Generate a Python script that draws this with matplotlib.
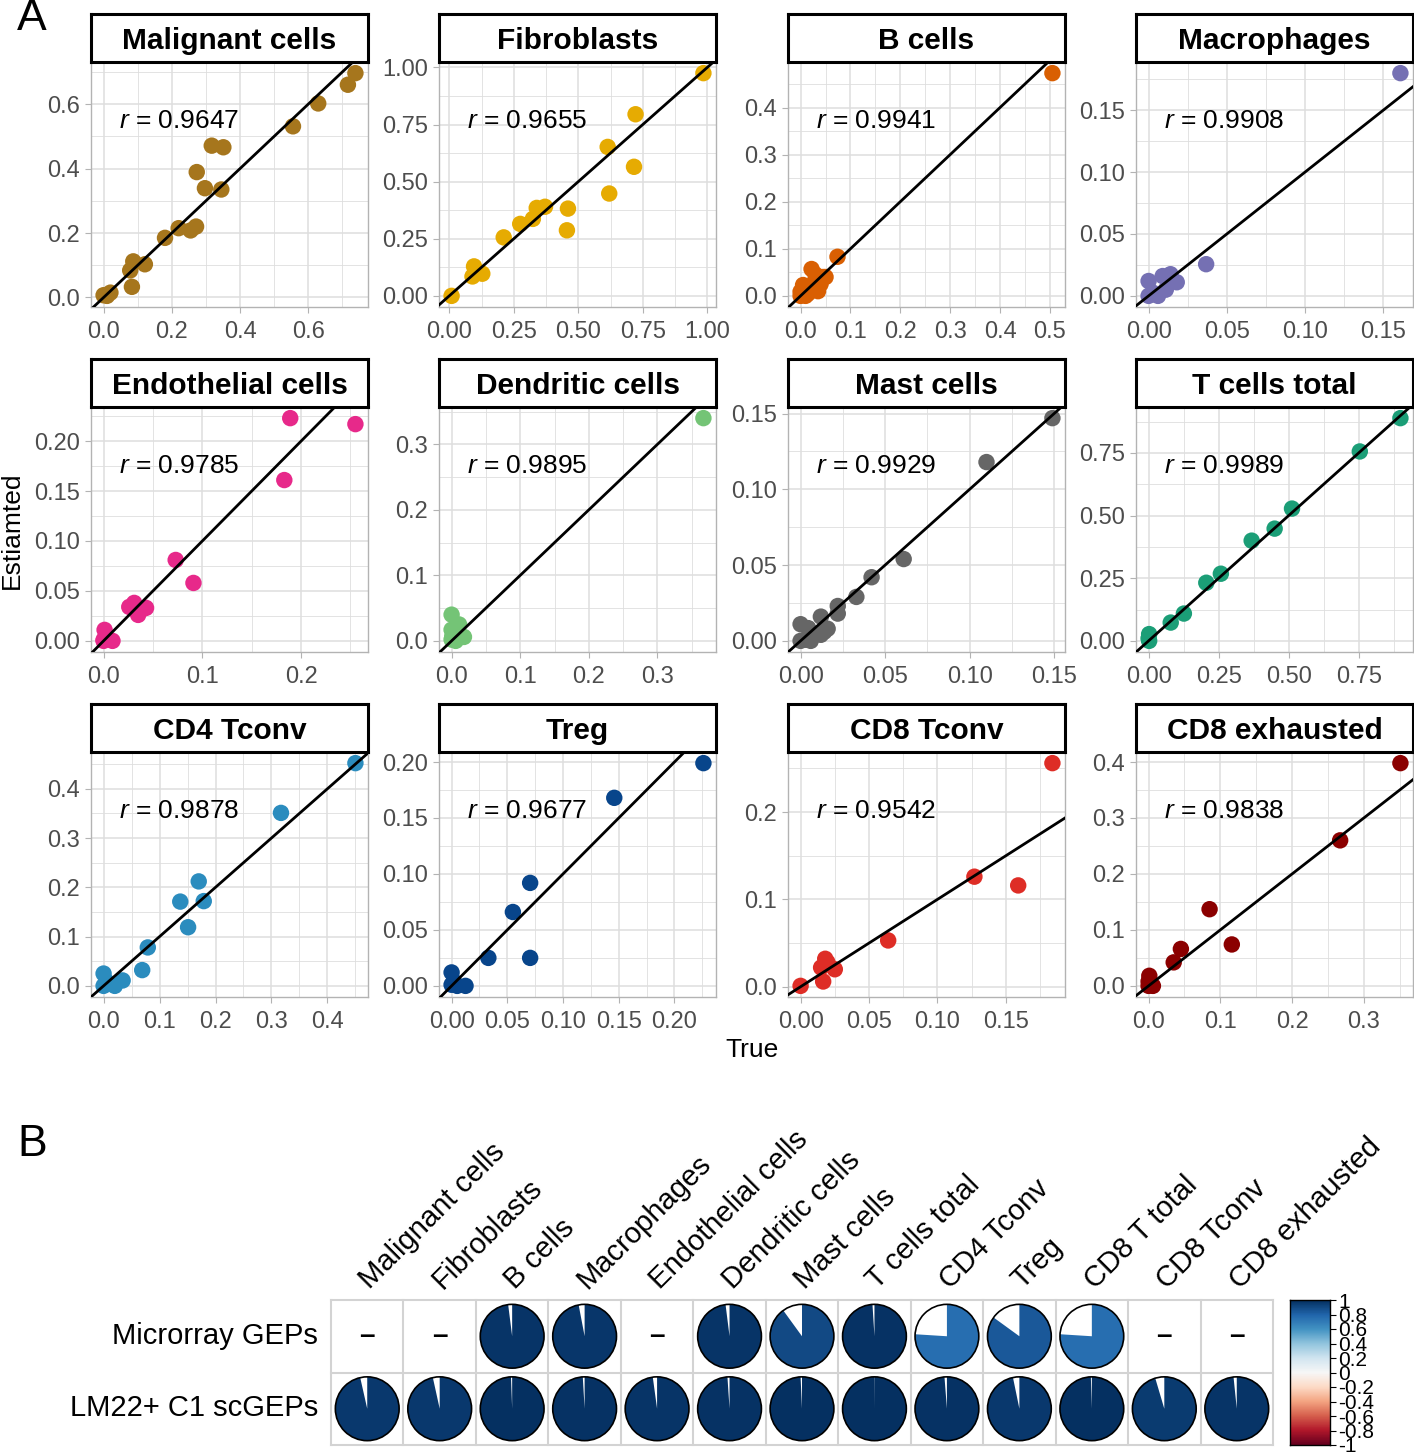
import numpy as np
import matplotlib
matplotlib.use("Agg")
import matplotlib.pyplot as plt
from matplotlib.patches import Wedge, Circle
from matplotlib.ticker import FixedLocator, FormatStrFormatter

plt.rcParams['font.family'] = ['Liberation Sans', 'DejaVu Sans']
plt.rcParams['mathtext.fontset'] = 'custom'
plt.rcParams['mathtext.rm'] = 'Liberation Sans'
plt.rcParams['mathtext.it'] = 'Liberation Sans:italic'

# ---------------- panel A data (true, estimated) ----------------
titles = ['Malignant cells', 'Fibroblasts', 'B cells', 'Macrophages',
          'Endothelial cells', 'Dendritic cells', 'Mast cells', 'T cells total',
          'CD4 Tconv', 'Treg', 'CD8 Tconv', 'CD8 exhausted']
r_vals = ['0.9647', '0.9655', '0.9941', '0.9908', '0.9785', '0.9895',
          '0.9929', '0.9989', '0.9878', '0.9677', '0.9542', '0.9838']
colors = ['#A6761D', '#E6AB02', '#D95F02', '#7570B3', '#E7298A', '#74C476',
          '#666666', '#1B9E77', '#2B8CBE', '#08458B', '#DE2D26', '#8B0000']

mal_x = [0.0, 0.02, 0.01, 0.083, 0.078, 0.087, 0.121, 0.18, 0.22, 0.255, 0.271,
         0.273, 0.297, 0.317, 0.351, 0.345, 0.555, 0.629, 0.716, 0.738]
mal_y = [0.007, 0.015, 0.005, 0.033, 0.084, 0.112, 0.103, 0.185, 0.215, 0.208, 0.22,
         0.389, 0.339, 0.471, 0.466, 0.335, 0.531, 0.602, 0.66, 0.696]
fib_x = [0.009, 0.096, 0.09, 0.128, 0.105, 0.211, 0.275, 0.324, 0.339, 0.371,
         0.46, 0.456, 0.614, 0.62, 0.716, 0.722, 0.985]
fib_y = [0.0, 0.129, 0.085, 0.097, 0.105, 0.256, 0.315, 0.337, 0.385, 0.39,
         0.382, 0.287, 0.652, 0.448, 0.565, 0.795, 0.975]
b_x = [0.505, 0.074, 0.022, 0.005, 0.0, 0.01, 0.02, 0.03, 0.04, 0.045, 0.035,
       0.015, 0.0, 0.005, 0.03, 0.05]
b_y = [0.473, 0.083, 0.057, 0.023, 0.009, 0.0, 0.02, 0.035, 0.025, 0.04, 0.01,
       0.005, 0.0, 0.015, 0.045, 0.04]
mac_x = [0.161, 0.0368, 0.0, 0.009, 0.014, 0.018, 0.0025, 0.006, 0.011, 0.0, 0.015]
mac_y = [0.180, 0.0256, 0.012, 0.016, 0.0175, 0.011, 0.0027, 0.0, 0.005, 0.0, 0.013]
endo_x = [0.189, 0.255, 0.183, 0.073, 0.091, 0.026, 0.031, 0.035, 0.043, 0.038,
          0.001, 0.0, 0.009, 0.002, 0.0]
endo_y = [0.223, 0.217, 0.161, 0.081, 0.058, 0.034, 0.038, 0.026, 0.033, 0.031,
          0.011, 0.001, 0.0, 0.004, 0.0]
dc_x = [0.367, 0.0, 0.011, 0.0, 0.018, 0.006, 0.0, 0.009, 0.001]
dc_y = [0.340, 0.04, 0.025, 0.017, 0.006, 0.0, 0.002, 0.009, 0.007]
mast_x = [0.149, 0.110, 0.061, 0.042, 0.033, 0.022, 0.022, 0.012, 0.016, 0.0,
          0.0045, 0.012, 0.0035, 0.0, 0.006, 0.014]
mast_y = [0.147, 0.118, 0.054, 0.042, 0.029, 0.023, 0.018, 0.016, 0.008, 0.011,
          0.0084, 0.004, 0.0007, 0.0, 0.0, 0.006]
tt_x = [0.899, 0.754, 0.512, 0.45, 0.368, 0.258, 0.206, 0.126, 0.079, 0.002, 0.002, 0.0]
tt_y = [0.889, 0.756, 0.528, 0.448, 0.40, 0.268, 0.232, 0.109, 0.073, 0.027, 0.0, 0.01]
cd4_x = [0.450, 0.317, 0.170, 0.137, 0.179, 0.151, 0.079, 0.069, 0.0, 0.034, 0.02, 0.0, 0.005]
cd4_y = [0.452, 0.351, 0.212, 0.171, 0.172, 0.119, 0.078, 0.032, 0.025, 0.011, 0.0, 0.0, 0.009]
treg_x = [0.226, 0.146, 0.0705, 0.055, 0.0705, 0.033, 0.0, 0.0125, 0.005, 0.0, 0.002]
treg_y = [0.199, 0.168, 0.092, 0.066, 0.025, 0.025, 0.012, 0.0, 0.0, 0.001, 0.004]
cd8_x = [0.184, 0.159, 0.127, 0.064, 0.018, 0.015, 0.025, 0.0165, 0.0, 0.0196]
cd8_y = [0.256, 0.116, 0.126, 0.053, 0.032, 0.022, 0.020, 0.006, 0.001, 0.028]
exh_x = [0.351, 0.267, 0.085, 0.116, 0.045, 0.035, 0.001, 0.006, 0.0, 0.0]
exh_y = [0.398, 0.26, 0.137, 0.074, 0.066, 0.042, 0.018, 0.0, 0.008, 0.0]

xs = [mal_x, fib_x, b_x, mac_x, endo_x, dc_x, mast_x, tt_x, cd4_x, treg_x, cd8_x, exh_x]
ys = [mal_y, fib_y, b_y, mac_y, endo_y, dc_y, mast_y, tt_y, cd4_y, treg_y, cd8_y, exh_y]

# tick positions per panel and decimals of the labels
xticks = [[0, .2, .4, .6], [0, .25, .5, .75, 1], [0, .1, .2, .3, .4, .5], [0, .05, .1, .15],
          [0, .1, .2], [0, .1, .2, .3], [0, .05, .1, .15], [0, .25, .5, .75],
          [0, .1, .2, .3, .4], [0, .05, .1, .15, .2], [0, .05, .1, .15], [0, .1, .2, .3]]
yticks = [[0, .2, .4, .6], [0, .25, .5, .75, 1], [0, .1, .2, .3, .4], [0, .05, .1, .15],
          [0, .05, .1, .15, .2], [0, .1, .2, .3], [0, .05, .1, .15], [0, .25, .5, .75],
          [0, .1, .2, .3, .4], [0, .05, .1, .15, .2], [0, .1, .2], [0, .1, .2, .3, .4]]
xdec = [1, 2, 1, 2, 1, 1, 2, 2, 1, 2, 2, 1]
ydec = [1, 2, 1, 2, 2, 1, 2, 2, 1, 2, 1, 1]

# ---------------- panel B data ----------------
b_types = ['Malignant cells', 'Fibroblasts', 'B cells', 'Macrophages', 'Endothelial cells',
           'Dendritic cells', 'Mast cells', 'T cells total', 'CD4 Tconv', 'Treg',
           'CD8 T total', 'CD8 Tconv', 'CD8 exhausted']
b_rows = ['Microrray GEPs', 'LM22+ C1 scGEPs']
microarray = [np.nan, np.nan, 0.98, 0.97, np.nan, 0.98, 0.90, 0.99, 0.76, 0.85, 0.76, np.nan, np.nan]
lm22 = [0.9647, 0.9655, 0.9941, 0.9908, 0.9785, 0.9895, 0.9929, 0.9989, 0.9878, 0.9677,
        0.995, 0.9542, 0.9838]

W, H = 1414, 1454
fig = plt.figure(figsize=(W / 100, H / 100), dpi=100)


def px_axes(l, t, r, b):
    return fig.add_axes([l / W, 1 - b / H, (r - l) / W, (b - t) / H])


col_l = [91, 439, 788, 1136]
pw = 277
row_t = [62, 407, 752]
ph = 245
strip_h = 48
tick_col = '#4D4D4D'
grid_col = '#DEDEDE'

for i in range(12):
    r_, c_ = divmod(i, 4)
    l, t = col_l[c_], row_t[r_]
    ax = px_axes(l, t, l + pw, t + ph)
    x = np.array(xs[i]); y = np.array(ys[i])
    xr = x.max() - x.min(); yr = y.max() - y.min()
    ax.set_xlim(x.min() - 0.05 * xr, x.max() + 0.05 * xr)
    ax.set_ylim(y.min() - 0.05 * yr, y.max() + 0.05 * yr)
    xt = xticks[i]; yt = yticks[i]
    ax.xaxis.set_major_locator(FixedLocator(xt))
    ax.yaxis.set_major_locator(FixedLocator(yt))
    xstep = xt[1] - xt[0]; ystep = yt[1] - yt[0]
    ax.xaxis.set_minor_locator(FixedLocator([xt[0] + (k + 0.5) * xstep for k in range(-1, len(xt) + 1)]))
    ax.yaxis.set_minor_locator(FixedLocator([yt[0] + (k + 0.5) * ystep for k in range(-1, len(yt) + 1)]))
    ax.xaxis.set_major_formatter(FormatStrFormatter('%.' + str(xdec[i]) + 'f'))
    ax.yaxis.set_major_formatter(FormatStrFormatter('%.' + str(ydec[i]) + 'f'))
    ax.grid(True, which='major', color=grid_col, lw=1.1, zorder=0)
    ax.grid(True, which='minor', color=grid_col, lw=0.6, zorder=0)
    ax.set_axisbelow(True)
    ax.tick_params(which='major', length=4, color='#B3B3B3', labelcolor=tick_col,
                   labelsize=17, pad=4)
    ax.tick_params(axis='x', which='major', pad=6)
    ax.tick_params(which='minor', length=0)
    for s in ax.spines.values():
        s.set_color('#B3B3B3'); s.set_linewidth(1)
    ax.scatter(x, y, s=140, color=colors[i], edgecolors='none', zorder=3)
    ax.axline((0, 0), slope=1, color='black', lw=2, zorder=4)
    ax.text(0.1, 0.76, '$r$ = ' + r_vals[i], transform=ax.transAxes,
            fontsize=19, va='center', ha='left', zorder=5)
    sax = px_axes(l, t - strip_h, l + pw, t)
    sax.set_xticks([]); sax.set_yticks([])
    for s in sax.spines.values():
        s.set_linewidth(2.2); s.set_color('black')
    sax.text(0.5, 0.44, titles[i], ha='center', va='center', fontsize=21.5,
             fontweight='bold', transform=sax.transAxes)

fig.text(12 / W, 1 - 530 / H, 'Estiamted', rotation=90, ha='center', va='center', fontsize=19)
fig.text(752 / W, 1 - 1050 / H, 'True', ha='center', va='center', fontsize=19)
fig.text(32 / W, 1 - 18 / H, 'A', ha='center', va='center', fontsize=32)
fig.text(32 / W, 1 - 1145 / H, 'B', ha='center', va='center', fontsize=32)

# ---------------- panel B: corrplot style pies ----------------
gl, gr, gt, gb = 331, 1273, 1300, 1445
bax = px_axes(gl, gt, gr, gb)
ncol = len(b_types)
bax.set_xlim(0, ncol); bax.set_ylim(2, 0)
bax.axis('off')
cmap = plt.get_cmap('RdBu')
for k in range(ncol + 1):
    bax.plot([k, k], [0, 2], color='#D3D3D3', lw=1.5, zorder=1, clip_on=False)
for k in range(3):
    bax.plot([0, ncol], [k, k], color='#D3D3D3', lw=1.5, zorder=1, clip_on=False)
for ri, vals in enumerate([microarray, lm22]):
    for ci, v in enumerate(vals):
        cx, cy = ci + 0.5, ri + 0.5
        if np.isnan(v):
            bax.text(cx, cy, '–', ha='center', va='center', fontsize=20, fontweight='bold')
            continue
        rad = 0.44
        bax.add_patch(Circle((cx, cy), rad, facecolor='white', edgecolor='none', zorder=2))
        # inverted y axis: wedge from 12 o'clock going clockwise
        bax.add_patch(Wedge((cx, cy), rad, -90, -90 + 360 * abs(v),
                            facecolor=cmap((v + 1) / 2), edgecolor='none', zorder=3))
        bax.add_patch(Circle((cx, cy), rad, facecolor='none', edgecolor='black', lw=1.2, zorder=4))
for ci, name in enumerate(b_types):
    bax.text(ci + 0.6, -0.08, name, rotation=45, rotation_mode='anchor',
             ha='left', va='bottom', fontsize=21)
for ri, name in enumerate(b_rows):
    fig.text(318 / W, 1 - (gt + 36 + 72.5 * ri) / H, name, ha='right', va='center', fontsize=21)

# colour legend
cax = px_axes(1290, gt, 1330, gb)
grad = np.linspace(-1, 1, 200).reshape(-1, 1)
cax.imshow(grad, cmap=cmap, vmin=-1, vmax=1, aspect='auto', origin='lower', extent=[0, 1, -1, 1])
cax.set_xticks([])
lev = np.round(np.linspace(-1, 1, 11), 1)
cax.set_yticks(lev)
cax.set_yticklabels(['%g' % v for v in lev])
cax.yaxis.tick_right()
cax.tick_params(axis='y', length=4, labelsize=15, pad=2)
for s in cax.spines.values():
    s.set_linewidth(1); s.set_color('black')

fig.savefig('out.png', dpi=100)
